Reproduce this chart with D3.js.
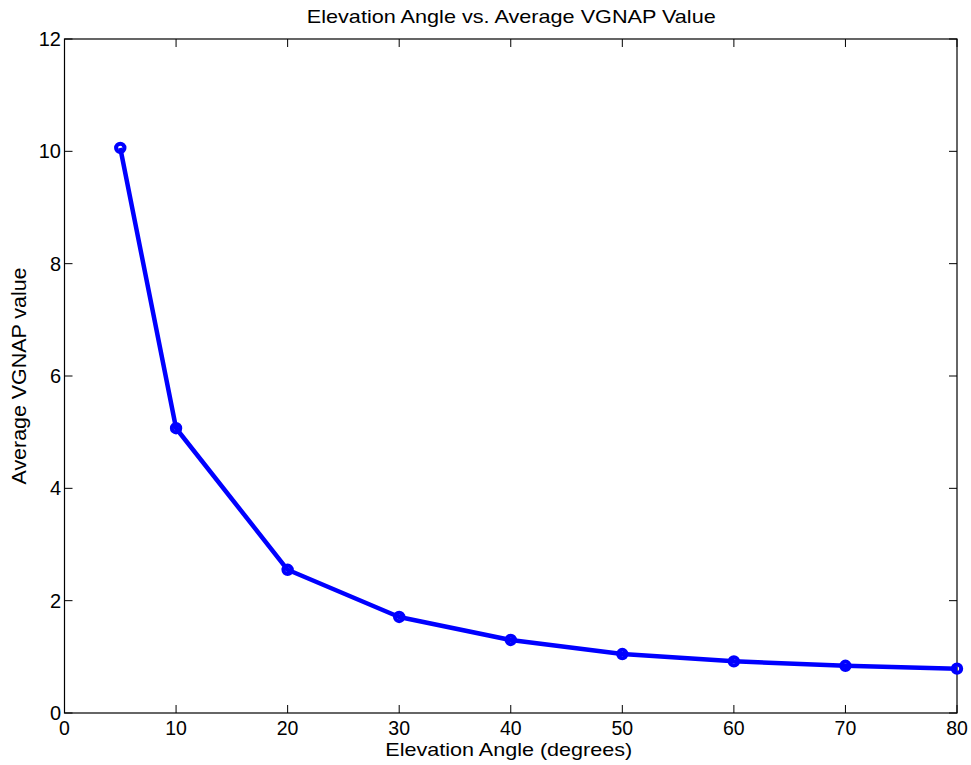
<!DOCTYPE html>
<html>
<head>
<meta charset="utf-8">
<script src="https://cdn.jsdelivr.net/npm/d3@7"></script>
<style>
  body { margin: 0; background: #fff; }
  text { font-family: Arial, "Liberation Sans", sans-serif; fill: #000; }
</style>
</head>
<body>
<svg id="chart" width="971" height="765"></svg>
<script>
// data
const angles = [5, 10, 20, 30, 40, 50, 60, 70, 80];
const vgnap = [10.06, 5.07, 2.55, 1.71, 1.30, 1.05, 0.92, 0.84, 0.79];
const xTicks = [0, 10, 20, 30, 40, 50, 60, 70, 80];
const yTicks = [0, 2, 4, 6, 8, 10, 12];

const svg = d3.select('#chart');
const margin = { left: 64.5, top: 39, right: 14, bottom: 52 };
const width = 971, height = 765;

const x = d3.scaleLinear().domain([0, 80]).range([margin.left, width - margin.right]);
const y = d3.scaleLinear().domain([0, 12]).range([height - margin.bottom, margin.top]);

const tickLen = 8;

// box
svg.append('rect')
  .attr('x', x(0)).attr('y', y(12))
  .attr('width', x(80) - x(0)).attr('height', y(0) - y(12))
  .attr('fill', 'none').attr('stroke', '#000').attr('stroke-width', 1.2);

// ticks on all four sides, pointing in
const tickG = svg.append('g').attr('stroke', '#000').attr('stroke-width', 1);
xTicks.forEach(t => {
  tickG.append('line').attr('x1', x(t)).attr('x2', x(t)).attr('y1', y(0)).attr('y2', y(0) - tickLen);
  tickG.append('line').attr('x1', x(t)).attr('x2', x(t)).attr('y1', y(12)).attr('y2', y(12) + tickLen);
});
yTicks.forEach(t => {
  tickG.append('line').attr('x1', x(0)).attr('x2', x(0) + tickLen).attr('y1', y(t)).attr('y2', y(t));
  tickG.append('line').attr('x1', x(80)).attr('x2', x(80) - tickLen).attr('y1', y(t)).attr('y2', y(t));
});

// tick labels
svg.selectAll('.xlab').data(xTicks).join('text')
  .attr('class', 'xlab')
  .attr('x', d => x(d)).attr('y', y(0) + 22)
  .attr('text-anchor', 'middle')
  .style('font-size', '19.5px')
  .text(d => d);

svg.selectAll('.ylab').data(yTicks).join('text')
  .attr('class', 'ylab')
  .attr('x', x(0) - 3.5).attr('y', d => y(d) + 7)
  .attr('text-anchor', 'end')
  .style('font-size', '20px')
  .text(d => d);

// line + markers
const line = d3.line().x((d, i) => x(angles[i])).y(d => y(d));
svg.append('path')
  .datum(vgnap)
  .attr('d', line)
  .attr('fill', 'none')
  .attr('stroke', '#0000ff')
  .attr('stroke-width', 4.5)
  .attr('stroke-linejoin', 'round');

svg.selectAll('.pt').data(vgnap).join('circle')
  .attr('class', 'pt')
  .attr('cx', (d, i) => x(angles[i])).attr('cy', d => y(d))
  .attr('r', 4.2)
  .attr('fill', 'none')
  .attr('stroke', '#0000ff')
  .attr('stroke-width', 4);

// titles
svg.append('text')
  .attr('x', (x(0) + x(80)) / 2 + 0.5).attr('y', 23)
  .attr('text-anchor', 'middle')
  .attr('textLength', 409).attr('lengthAdjust', 'spacingAndGlyphs')
  .style('font-size', '19px')
  .text('Elevation Angle vs. Average VGNAP Value');

svg.append('text')
  .attr('x', (x(0) + x(80)) / 2 - 2).attr('y', 756)
  .attr('text-anchor', 'middle')
  .attr('textLength', 247).attr('lengthAdjust', 'spacingAndGlyphs')
  .style('font-size', '18.5px')
  .text('Elevation Angle (degrees)');

svg.append('text')
  .attr('transform', `translate(25.5,${(y(0) + y(12)) / 2}) rotate(-90)`)
  .attr('text-anchor', 'middle')
  .attr('textLength', 217).attr('lengthAdjust', 'spacingAndGlyphs')
  .style('font-size', '19.5px')
  .text('Average VGNAP value');
</script>
</body>
</html>
